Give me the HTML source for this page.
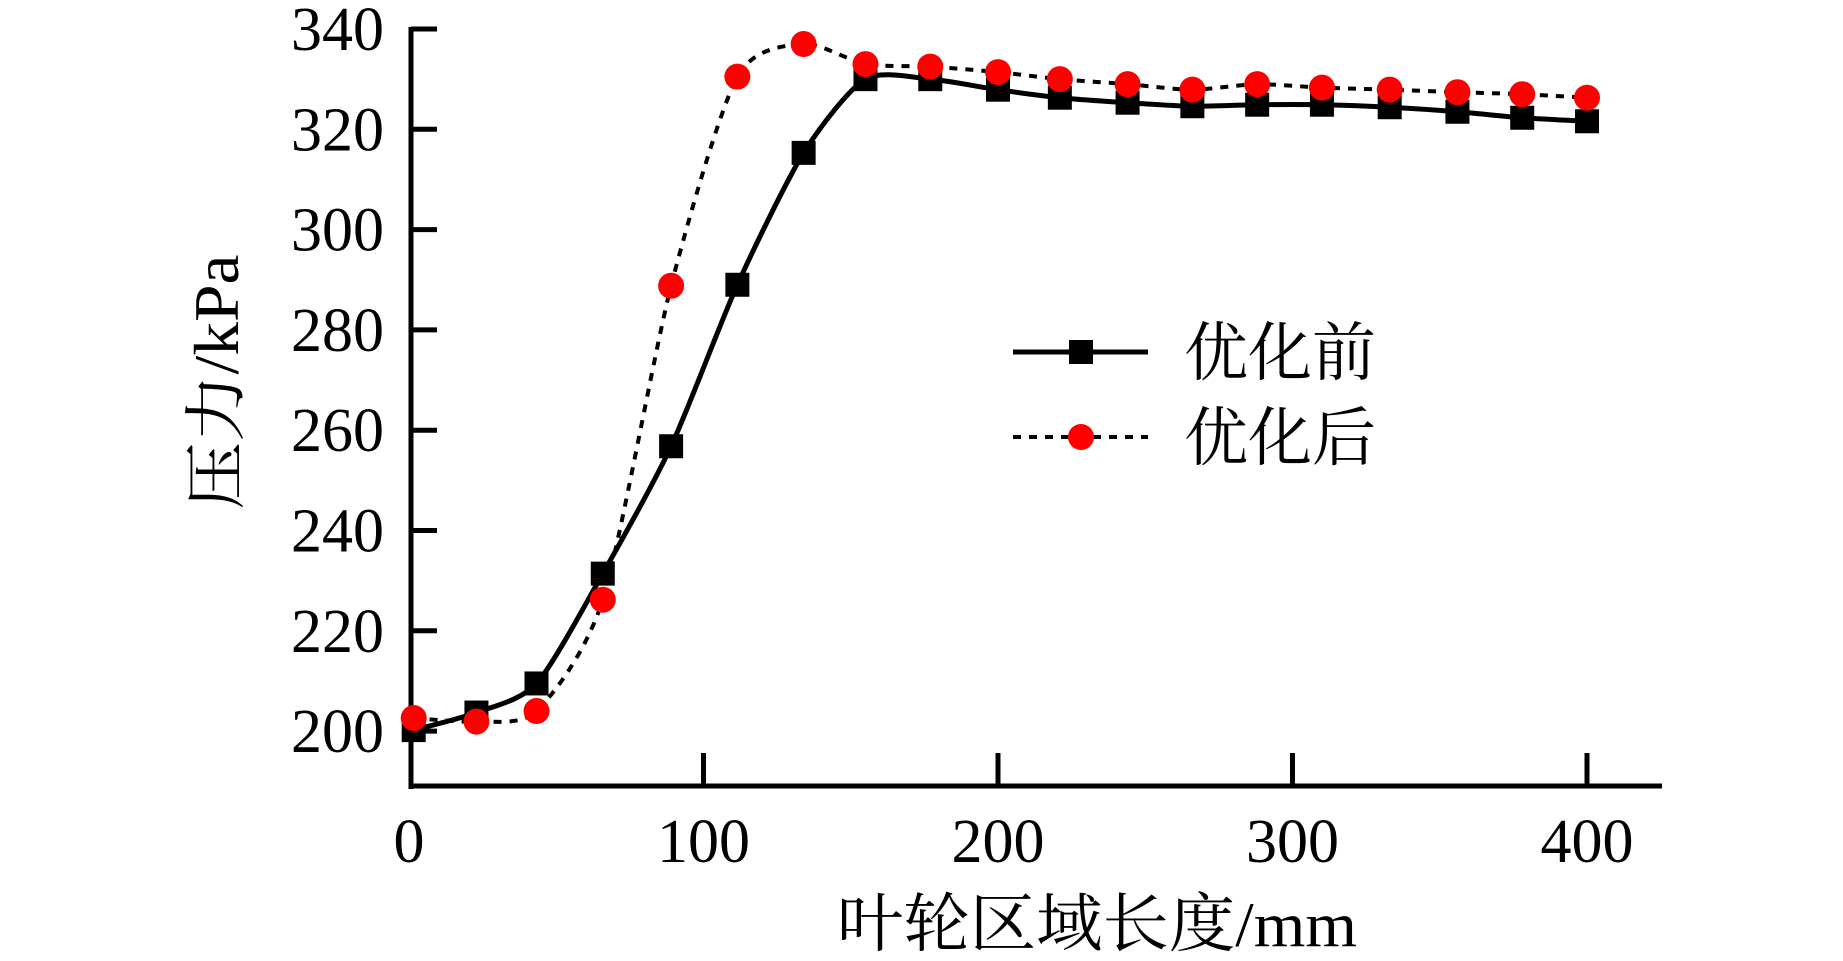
<!DOCTYPE html>
<html><head><meta charset="utf-8"><style>
html,body{margin:0;padding:0;background:#fff;}
svg{display:block}
text{font-family:"Liberation Serif","Noto Serif CJK SC",serif;fill:#000}
</style></head><body>
<svg id="s" width="1843" height="961" viewBox="0 0 1843 961" xmlns="http://www.w3.org/2000/svg">
<g stroke="#000" stroke-width="5" fill="none">
<line x1="411" y1="27" x2="411" y2="789"/>
<line x1="409" y1="786" x2="1662" y2="786"/>
</g>
<g id="ticks" stroke="#000" stroke-width="5"></g>
<g font-size="62" text-anchor="end" id="yl"></g>
<g font-size="62" text-anchor="middle" id="xl"></g>
<text x="1097" y="946" font-size="64" text-anchor="middle" textLength="520" lengthAdjust="spacingAndGlyphs">叶轮区域长度/mm</text>
<text transform="translate(238,382) rotate(-90)" font-size="63" text-anchor="middle" textLength="255" lengthAdjust="spacingAndGlyphs">压力/kPa</text>
<path id="pb" fill="none" stroke="#000" stroke-width="5"/>
<path id="pr" fill="none" stroke="#000" stroke-width="4" stroke-dasharray="8,8"/>
<g id="mb"></g><g id="mr"></g>
<line x1="1013" y1="352" x2="1148" y2="352" stroke="#000" stroke-width="5"/>
<rect x="1069" y="340" width="24" height="24" fill="#000"/>
<line x1="1013" y1="437" x2="1148" y2="437" stroke="#000" stroke-width="4" stroke-dasharray="8,8"/>
<circle cx="1081" cy="437" r="13" fill="#f00"/>
<text x="1184" y="375" font-size="64">优化前</text>
<text x="1184" y="460" font-size="64">优化后</text>
</svg>
<script>
var NS="http://www.w3.org/2000/svg";
function X(m){return 409+m*2.945}
function Y(v){return 29+(340-v)*5.015}
var xs=[1.6,22.9,43.3,65.8,89,111.5,134,155,177,200,221,244,266,288,310,333,356,378,400];
var b=[200.2,203.7,209.5,231.4,256.8,289,315.3,330,330,327.9,326.3,325.3,324.6,324.9,324.9,324.4,323.5,322.3,321.6];
var r=[202.6,201.9,204,226.2,288.8,330.5,337,333,332.5,331.4,330,329,327.9,329,328.3,327.9,327.4,327,326.3];
function el(t,a,p){var e=document.createElementNS(NS,t);for(var k in a)e.setAttribute(k,a[k]);p.appendChild(e);return e}
var tk=document.getElementById('ticks');
for(var v=200;v<=340;v+=20){el('line',{x1:411,y1:Y(v),x2:437,y2:Y(v)},tk);
 el('text',{x:384,y:Y(v)+21},document.getElementById('yl')).textContent=v;}
for(var m=0;m<=400;m+=100){if(m>0)el('line',{x1:X(m),y1:786,x2:X(m),y2:753},tk);
 el('text',{x:X(m),y:862},document.getElementById('xl')).textContent=m;}
function cr(P,k){var d="M"+P[0][0]+","+P[0][1];for(var i=0;i<P.length-1;i++){var p0=P[i-1]||P[i],p1=P[i],p2=P[i+1],p3=P[i+2]||P[i+1];
 d+=" C"+(p1[0]+(p2[0]-p0[0])/k)+","+(p1[1]+(p2[1]-p0[1])/k)+" "+(p2[0]-(p3[0]-p1[0])/k)+","+(p2[1]-(p3[1]-p1[1])/k)+" "+p2[0]+","+p2[1];}return d}
var PB=xs.map(function(x,i){return[X(x),Y(b[i])]}),PR=xs.map(function(x,i){return[X(x),Y(r[i])]});
document.getElementById('pb').setAttribute('d',cr(PB,8));
document.getElementById('pr').setAttribute('d',cr(PR,8));
PB.forEach(function(p){el('rect',{x:p[0]-12,y:p[1]-12,width:24,height:24,fill:'#000'},document.getElementById('mb'))});
PR.forEach(function(p){el('circle',{cx:p[0],cy:p[1],r:13,fill:'#f00'},document.getElementById('mr'))});
</script>
</body></html>
